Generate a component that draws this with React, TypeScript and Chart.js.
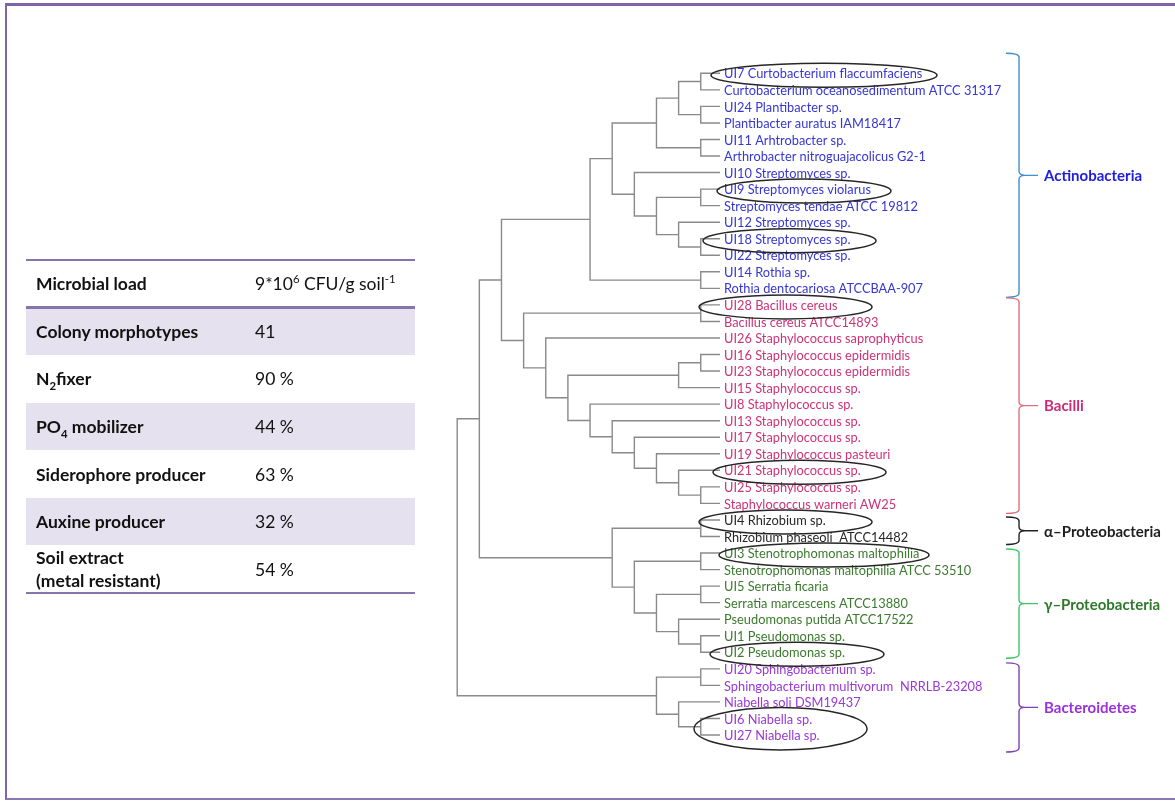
import React, { useEffect, useRef } from "react";
import { Chart, registerables } from "chart.js";
Chart.register(...registerables);

// ---------- DATA ----------
const leafNames = [
  "UI7 Curtobacterium flaccumfaciens",
  "Curtobacterium oceanosedimentum ATCC 31317",
  "UI24 Plantibacter sp.",
  "Plantibacter auratus IAM18417",
  "UI11 Arhtrobacter sp.",
  "Arthrobacter nitroguajacolicus G2-1",
  "UI10 Streptomyces sp.",
  "UI9 Streptomyces violarus",
  "Streptomyces tendae ATCC 19812",
  "UI12 Streptomyces sp.",
  "UI18 Streptomyces sp.",
  "UI22 Streptomyces sp.",
  "UI14 Rothia sp.",
  "Rothia dentocariosa ATCCBAA-907",
  "UI28 Bacillus cereus",
  "Bacillus cereus ATCC14893",
  "UI26 Staphylococcus saprophyticus",
  "UI16 Staphylococcus epidermidis",
  "UI23 Staphylococcus epidermidis",
  "UI15 Staphylococcus sp.",
  "UI8 Staphylococcus sp.",
  "UI13 Staphylococcus sp.",
  "UI17 Staphylococcus sp.",
  "UI19 Staphylococcus pasteuri",
  "UI21 Staphylococcus sp.",
  "UI25 Staphylococcus sp.",
  "Staphylococcus warneri AW25",
  "UI4 Rhizobium sp.",
  "Rhizobium phaseoli  ATCC14482",
  "UI3 Stenotrophomonas maltophilia",
  "Stenotrophomonas maltophilia ATCC 53510",
  "UI5 Serratia ficaria",
  "Serratia marcescens ATCC13880",
  "Pseudomonas putida ATCC17522",
  "UI1 Pseudomonas sp.",
  "UI2 Pseudomonas sp.",
  "UI20 Sphingobacterium sp.",
  "Sphingobacterium multivorum  NRRLB-23208",
  "Niabella soli DSM19437",
  "UI6 Niabella sp.",
  "UI27 Niabella sp.",
];

const groupNames = ["Actinobacteria", "Bacilli", "α–Proteobacteria", "γ–Proteobacteria", "Bacteroidetes"];
const groupFirstLeaf = [0, 14, 27, 29, 36];
const groupLastLeaf = [13, 26, 28, 35, 40];

// circled isolates: [first leaf, last leaf]
const circledLeaves = [[0, 0], [7, 7], [10, 10], [14, 14], [24, 24], [27, 27], [29, 29], [35, 35], [39, 40]];

// tree: [node depth, child, child]; numbers = leaf indices
type TreeNode = [number, TreeNode | number, TreeNode | number];
const actinoClade: TreeNode = [6,
  [7,
    [9, [10, [11, 0, 1], [11, 2, 3]], [11, 4, 5]],
    [8, 6, [9, [11, 7, 8], [10, 9, [11, 10, 11]]]]],
  [11, 12, 13]];
const bacilliClade: TreeNode = [3, [11, 14, 15],
  [4, 16, [5, [10, [11, 17, 18], 19],
    [6, 20, [7, 21, [8, 22, [9, 23, [10, 24, [11, 25, 26]]]]]]]]];
const proteoClade: TreeNode = [7, [11, 27, 28],
  [8, [11, 29, 30], [9, [11, 31, 32], [10, 33, [11, 34, 35]]]]];
const bacteroidetesClade: TreeNode = [9, [11, 36, 37], [10, 38, [11, 39, 40]]];
const treeRoot: TreeNode = [0, [1, [2, actinoClade, bacilliClade], proteoClade], bacteroidetesClade];
const leafDepth = 11.87;

const tableLabels = ["Microbial load", "Colony morphotypes", "N_{2}fixer", "PO_{4} mobilizer", "Siderophore producer", "Auxine producer", "Soil extract|(metal resistant)"];
const tableValues = ["9*10^{6} CFU/g soil^{-1}", "41", "90 %", "44 %", "63 %", "32 %", "54 %"];

// ---------- STYLE ----------
const LABEL_COLORS = ["#3636d2", "#cc3378", "#262626", "#3b7a2e", "#9a38d4"];
const TITLE_COLORS = ["#2020dc", "#cc2a74", "#1e1e1e", "#2e7a2a", "#9a30dc"];
const BRACE_COLORS = ["#3f8fcf", "#e0707e", "#222222", "#3cc86a", "#7c44b0"];
const BRACE_PAD = [[20, 9], [7, 10], [3, 8], [4, 6], [6, 17]];
const ELLIPSE_GEOM = [[-13, 226], [-7, 174], [-21, 173], [-25, 173], [-11, 173], [-25, 173], [-5, 210], [-14, 174], [-30, 173]];
const FONT = "Lato, 'Open Sans', sans-serif";

function buildSegments(node: TreeNode | number, out: { x: number; y: number }[][]): { x: number; y: number } {
  if (typeof node === "number") return { x: leafDepth, y: node };
  const [d, a, b] = node;
  const ca = buildSegments(a, out);
  const cb = buildSegments(b, out);
  out.push([
    { x: ca.x, y: ca.y },
    { x: d, y: ca.y },
    { x: d, y: cb.y },
    { x: cb.x, y: cb.y },
  ]);
  return { x: d, y: (ca.y + cb.y) / 2 };
}

function rich(s: string) {
  const parts: React.ReactNode[] = [];
  const re = /([_^])\{([^}]*)\}/g;
  let last = 0;
  let m: RegExpExecArray | null;
  let k = 0;
  while ((m = re.exec(s))) {
    if (m.index > last) parts.push(s.slice(last, m.index));
    const style = { fontSize: "0.65em", lineHeight: 0 } as React.CSSProperties;
    parts.push(m[1] === "_" ? <sub key={k++} style={style}>{m[2]}</sub> : <sup key={k++} style={style}>{m[2]}</sup>);
    last = m.index + m[0].length;
  }
  if (last < s.length) parts.push(s.slice(last));
  return parts;
}

const decorPlugin = {
  id: "treeDecor",
  afterDatasetsDraw(chart: any) {
    const ctx = chart.ctx as CanvasRenderingContext2D;
    const xs = chart.scales.x;
    const ys = chart.scales.y;
    const tipX = xs.getPixelForValue(leafDepth);
    const labelX = tipX + 4;
    const yOf = (i: number) => ys.getPixelForValue(i);
    ctx.save();
    // leaf labels
    ctx.font = `12.8px ${FONT}`;
    ctx.textBaseline = "middle";
    ctx.textAlign = "left";
    leafNames.forEach((name, i) => {
      let g = 0;
      groupFirstLeaf.forEach((f, gi) => { if (i >= f && i <= groupLastLeaf[gi]) g = gi; });
      ctx.fillStyle = LABEL_COLORS[g];
      ctx.fillText(name, labelX, yOf(i) + 1);
    });
    // ellipses
    ctx.strokeStyle = "#262626";
    ctx.lineWidth = 1.5;
    circledLeaves.forEach(([a, b], k) => {
      const [dx, w] = ELLIPSE_GEOM[k];
      const cx = labelX + dx + w / 2;
      const cy = (yOf(a) + yOf(b)) / 2 + 2;
      const ry = 12 + (yOf(b) - yOf(a)) / 2 + (b > a ? 1 : 0);
      ctx.beginPath();
      ctx.ellipse(cx, cy, w / 2, ry, 0, 0, Math.PI * 2);
      ctx.stroke();
    });
    // braces
    const x0 = tipX + 286;
    const x1 = tipX + 299;
    const x2 = tipX + 318;
    groupNames.forEach((gName, g) => {
      const top = yOf(groupFirstLeaf[g]) - BRACE_PAD[g][0];
      const bot = yOf(groupLastLeaf[g]) + BRACE_PAD[g][1];
      const mid = (top + bot) / 2;
      const r = 4;
      ctx.strokeStyle = BRACE_COLORS[g];
      ctx.lineWidth = 1.4;
      ctx.beginPath();
      ctx.moveTo(x0, top);
      ctx.quadraticCurveTo(x1, top, x1, top + r);
      ctx.lineTo(x1, mid - r);
      ctx.quadraticCurveTo(x1, mid, x1 + 6, mid);
      ctx.lineTo(x2, mid);
      ctx.moveTo(x1 + 6, mid);
      ctx.quadraticCurveTo(x1, mid, x1, mid + r);
      ctx.lineTo(x1, bot - r);
      ctx.quadraticCurveTo(x1, bot, x0, bot);
      ctx.stroke();
      ctx.fillStyle = TITLE_COLORS[g];
      ctx.font = `bold 15px ${FONT}`;
      ctx.fillText(gName, x2 + 6, mid + 1);
    });
    ctx.restore();
  },
};

export default function App() {
  const ref = useRef<HTMLCanvasElement>(null);
  useEffect(() => {
    document.body.style.margin = "0";
    document.body.style.overflow = "hidden";
    const segs: { x: number; y: number }[][] = [];
    buildSegments(treeRoot, segs);
    const chart = new Chart(ref.current!, {
      type: "scatter",
      data: {
        datasets: segs.map((s) => ({
          data: s,
          showLine: true,
          borderColor: "#8a8a8a",
          borderWidth: 1.4,
          pointRadius: 0,
          pointHoverRadius: 0,
          fill: false,
          tension: 0,
          clip: false as any,
        })),
      },
      options: {
        animation: false,
        responsive: false,
        devicePixelRatio: 1,
        events: [],
        layout: { padding: { left: 457.2, right: 452.1, top: 73.3, bottom: 66 } },
        plugins: { legend: { display: false }, tooltip: { enabled: false }, title: { display: false } },
        scales: {
          x: { type: "linear", min: 0, max: 12, display: false },
          y: { type: "linear", min: 0, max: 40, reverse: true, display: false },
        },
      },
      plugins: [decorPlugin],
    });
    return () => chart.destroy();
  }, []);

  const rowTop = 260;
  const rowH = (593 - 260) / 7;
  const lineColor = "#8674ad";

  return (
    <div style={{ position: "absolute", left: 0, top: 0, width: 1175, height: 801, overflow: "hidden", background: "#fff", fontFamily: FONT }}>
      <canvas ref={ref} width={1175} height={801} style={{ position: "absolute", left: 0, top: 0, width: 1175, height: 801 }} />
      <div style={{ position: "absolute", left: 5, top: 3, width: 1200, height: 792, borderLeft: "2.5px solid #8066a8", borderTop: "3px solid #8066a8", borderBottom: "2px solid #8a78b4", pointerEvents: "none" }} />
      {tableLabels.map((lab, i) => (
        <div key={i} style={{ position: "absolute", left: 26, top: rowTop + i * rowH, width: 389, height: rowH, background: i % 2 === 1 ? "#e6e1ee" : "transparent" }}>
          <div style={{ position: "absolute", left: 10, top: 0, height: rowH, display: "flex", flexDirection: "column", justifyContent: "center", fontWeight: 700, fontSize: 17.5, lineHeight: "23px", color: "#111" }}>
            {lab.split("|").map((l, j) => <div key={j}>{rich(l)}</div>)}
          </div>
          <div style={{ position: "absolute", left: 229, top: 0, height: rowH, display: "flex", alignItems: "center", fontSize: 17.5, color: "#111", whiteSpace: "nowrap" }}>
            <span>{rich(tableValues[i])}</span>
          </div>
        </div>
      ))}
      <div style={{ position: "absolute", left: 26, top: 259, width: 389, height: 2, background: lineColor }} />
      <div style={{ position: "absolute", left: 26, top: 306, width: 389, height: 2.5, background: lineColor }} />
      <div style={{ position: "absolute", left: 26, top: 592, width: 389, height: 2, background: lineColor }} />
    </div>
  );
}
